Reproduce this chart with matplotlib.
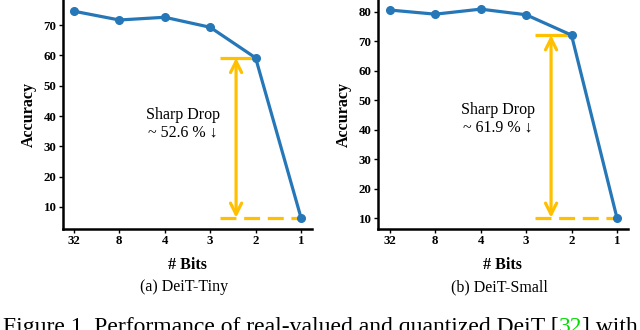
import matplotlib
matplotlib.use("Agg")
import matplotlib.pyplot as plt

# ---- data ----
bits_labels = ["32", "8", "4", "3", "2", "1"]
tiny_acc = [74.6, 71.7, 72.6, 69.3, 59.2, 6.4]
small_acc = [80.6, 79.2, 80.9, 79.0, 72.1, 10.2]
tiny_drop_text = "Sharp Drop\n~ 52.6 % \u2193"
small_drop_text = "Sharp Drop\n~ 61.9 % \u2193"
sub_captions = ["(a) DeiT-Tiny", "(b) DeiT-Small"]
tiny_yticks = [10, 20, 30, 40, 50, 60, 70]
small_yticks = [10, 20, 30, 40, 50, 60, 70, 80]

BLUE = "#2677b8"
ORANGE = "#FFC000"
SERIF = ["Liberation Serif", "DejaVu Serif"]

plt.rcParams["font.family"] = SERIF

fig = plt.figure(figsize=(6.4, 3.3), dpi=100)

panels = [
    dict(rect=[0.0984, 0.306, 0.389, 0.694], acc=tiny_acc, yticks=tiny_yticks,
         ylim=(2.7, 78.3), xlim=(-0.24, 5.24), text=tiny_drop_text,
         text_xy=(2.4, 37.4), arrow_x=3.57, line_x0=3.21, cap=sub_captions[0],
         cap_x=0.2875),
    dict(rect=[0.5906, 0.306, 0.3904, 0.694], acc=small_acc, yticks=small_yticks,
         ylim=(6.4, 84.0), xlim=(-0.26, 5.24), text=small_drop_text,
         text_xy=(2.38, 43.7), arrow_x=3.55, line_x0=3.19, cap=sub_captions[1],
         cap_x=0.7797),
]

for p in panels:
    ax = fig.add_axes(p["rect"])
    x = list(range(len(bits_labels)))
    ax.plot(x, p["acc"], color=BLUE, lw=2.3, marker="o", ms=5.5, zorder=3,
            clip_on=False)
    # drop annotation
    top = p["acc"][-2]
    bot = p["acc"][-1]
    ax.plot([p["line_x0"], x[-2]], [top, top], color=ORANGE, lw=2.3, zorder=2,
            solid_capstyle="butt")
    ax.plot([p["line_x0"], x[-1]], [bot, bot], color=ORANGE, lw=2.3, zorder=2,
            dashes=(5, 2.4))
    ax.annotate("", xy=(p["arrow_x"], top), xytext=(p["arrow_x"], bot),
                arrowprops=dict(arrowstyle="<->", lw=2.3, color=ORANGE,
                                mutation_scale=20, shrinkA=0, shrinkB=0))
    ax.text(p["text_xy"][0], p["text_xy"][1], p["text"], ha="center",
            va="center", fontsize=11.5, linespacing=1.15, family=SERIF)

    ax.set_xlim(*p["xlim"])
    ax.set_ylim(*p["ylim"])
    ax.set_xticks(x)
    ax.set_xticklabels(bits_labels)
    ax.set_yticks(p["yticks"])
    for lab in ax.get_xticklabels() + ax.get_yticklabels():
        lab.set_fontweight("bold")
        lab.set_fontsize(9.3)
    ax.tick_params(axis="both", length=3, width=1, pad=1.5, direction="out")
    for s in ["top", "right"]:
        ax.spines[s].set_visible(False)
    for s in ["left", "bottom"]:
        ax.spines[s].set_linewidth(1.8)
    ax.set_xlabel("# Bits", fontsize=11.5, fontweight="bold", labelpad=7)
    ax.set_ylabel("Accuracy", fontsize=11.5, fontweight="bold", labelpad=5)
    fig.text(p["cap_x"], 1 - 287 / 330, p["cap"], ha="center", va="center",
             fontsize=11.5)

# figure caption (cut off at the bottom in the reference)
cap_parts = [("Figure 1. Performance of real-valued and quantized DeiT [", "black"),
             ("32", "#00dd00"), ("] with", "black")]
cap_y = -0.009
t = fig.text(0.005, cap_y, cap_parts[0][0], ha="left", va="baseline",
             fontsize=17, color=cap_parts[0][1])
fig.canvas.draw()
r = fig.canvas.get_renderer()
xpos = t.get_window_extent(r).x1
for txt, col in cap_parts[1:]:
    tt = fig.text(xpos / fig.bbox.width, cap_y, txt, ha="left", va="baseline",
                  fontsize=17, color=col)
    fig.canvas.draw()
    xpos = tt.get_window_extent(r).x1

fig.savefig("out.png", dpi=100)
